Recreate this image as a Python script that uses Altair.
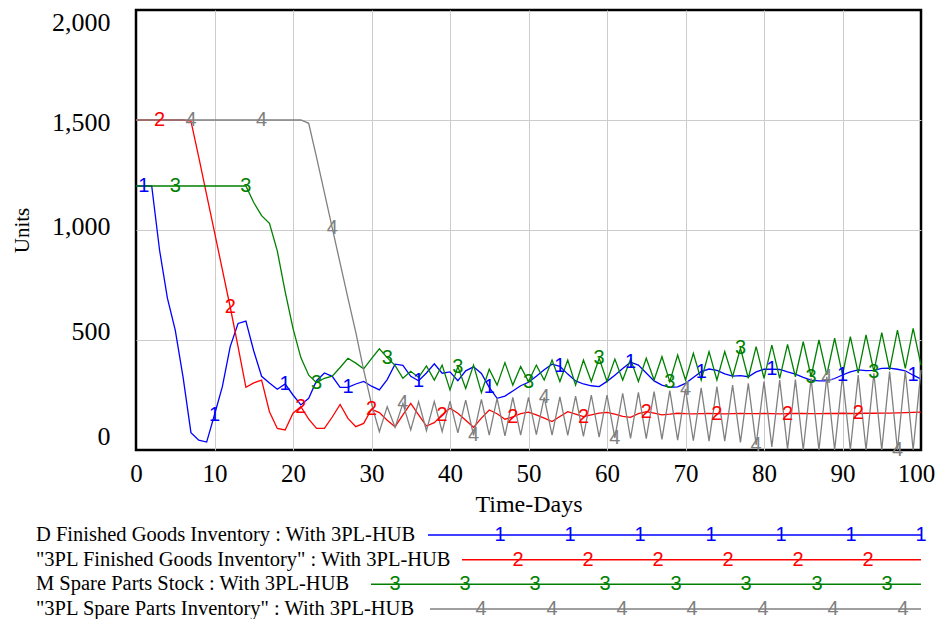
import altair as alt
import pandas as pd

days = list(range(101))

# D Finished Goods Inventory (series 1)
blue = [1200, 1200, 1200, 909, 690, 545, 330, 79, 45, 36,
        160, 288, 470, 575, 586, 450, 335, 305, 276, 300,
        250, 205, 235, 315, 350, 335, 285, 285, 300, 312,
        290, 273, 320, 390, 385, 335, 315, 350, 392, 349,
        355, 315, 360, 378, 348, 285, 235, 245, 268, 292,
        308, 335, 365, 390, 380, 345, 314, 300, 292, 288,
        312, 340, 370, 399, 386, 350, 314, 295, 285, 287,
        303, 330, 356, 368, 362, 346, 336, 338, 333, 355,
        367, 368, 366, 355, 345, 330, 318, 314, 314, 325,
        341, 355, 364, 361, 362, 371, 372, 367, 360, 340,
        322]

# "3PL Finished Goods Inventory" (series 2)
red = [1500, 1500, 1500, 1500, 1500, 1500, 1500, 1495, 1330, 1160,
       990, 820, 650, 470, 285, 305, 318, 174, 98, 91,
       167, 197, 140, 98, 98, 150, 207, 144, 106, 121,
       185, 170, 135, 106, 160, 212, 160, 109, 124, 160,
       190, 167, 135, 103, 145, 182, 165, 140, 150, 165,
       172, 160, 145, 129, 152, 174, 163, 152, 160, 168,
       171, 163, 153, 148, 165, 174, 168, 160, 163, 167,
       165, 164, 165, 166, 165, 164, 165, 166, 165, 165,
       166, 165, 164, 165, 166, 166, 165, 165, 166, 166,
       167, 166, 166, 167, 167, 168, 168, 169, 170, 171,
       172]

# M Spare Parts Stock (series 3)
green = [1200, 1200, 1200, 1200, 1200, 1200, 1200, 1200, 1200, 1200,
         1200, 1200, 1200, 1200, 1200, 1125, 1065, 1030, 905, 720,
         553, 420, 340, 306, 326, 336, 375, 417, 395, 369,
         415, 460, 420, 385, 326, 358, 330, 382, 318, 386,
         273, 379, 280, 386, 261, 367, 295, 397, 295, 379,
         311, 386, 318, 409, 311, 409, 295, 409, 311, 417,
         311, 413, 318, 413, 311, 417, 318, 424, 311, 432,
         318, 439, 318, 447, 318, 447, 333, 462, 326, 470,
         326, 477, 326, 480, 333, 492, 333, 500, 341, 508,
         341, 515, 349, 523, 356, 533, 364, 545, 371, 553,
         386]

# "3PL Spare Parts Inventory" (series 4)
grey = [1500, 1500, 1500, 1500, 1500, 1500, 1500, 1500, 1500, 1500,
        1500, 1500, 1500, 1500, 1500, 1500, 1500, 1500, 1500, 1500,
        1500, 1500, 1485, 1330, 1170, 1010, 849, 690, 535, 364,
        210, 83, 197, 103, 212, 91, 220, 88, 220, 83,
        222, 78, 227, 66, 230, 68, 235, 64, 239, 68,
        239, 70, 239, 68, 242, 66, 245, 62, 250, 58,
        250, 55, 258, 53, 262, 52, 265, 48, 270, 45,
        278, 42, 282, 40, 288, 40, 295, 35, 303, 23,
        311, 14, 318, 4, 320, 0, 326, 0, 333, 0,
        336, 0, 341, 0, 349, 0, 356, 0, 360, 0,
        364]

series_ids = ["1", "2", "3", "4"]
series_names = [
    "D Finished Goods Inventory : With 3PL-HUB",
    "\"3PL Finished Goods Inventory\" : With 3PL-HUB",
    "M Spare Parts Stock : With 3PL-HUB",
    "\"3PL Spare Parts Inventory\" : With 3PL-HUB",
]
colors = ["#0000FF", "#FF0000", "#008000", "#808080"]

label_days_blue = [1, 10, 19, 27, 36, 45, 54, 63, 72, 81, 90, 99]
label_days_red = [3, 12, 21, 30, 39, 48, 57, 65, 74, 83, 92]
label_days_green = [5, 14, 23, 32, 41, 50, 59, 68, 77, 86, 94]
label_days_grey = [7, 16, 25, 34, 43, 52, 61, 70, 79, 88, 97]

y_ticks = [0, 500, 1000, 1500, 2000]
x_ticks = list(range(0, 101, 5))

# ---- layout constants for the legend block (page pixels) ----
leg_text_x = 36
leg_line_start = [428, 462, 371, 430]
leg_line_end = 921
leg_marker_x = [
    [500, 570, 640, 711, 781, 851, 921],
    [518, 588, 658, 728, 798, 868],
    [395, 465, 535, 605, 676, 746, 817, 887],
    [481, 552, 622, 692, 763, 833, 903],
]

all_series = [blue, red, green, grey]
all_label_days = [label_days_blue, label_days_red, label_days_green, label_days_grey]

rows = []
for sid, vals in zip(series_ids, all_series):
    for d, v in zip(days, vals):
        rows.append({"series": sid, "day": d, "value": v})
df = pd.DataFrame(rows)

lab_rows = []
for sid, vals, ldays in zip(series_ids, all_series, all_label_days):
    for d in ldays:
        lab_rows.append({"series": sid, "day": d, "value": vals[d]})
df_lab = pd.DataFrame(lab_rows)

leg_rows = []
leg_mark_rows = []
for i, (sid, name) in enumerate(zip(series_ids, series_names)):
    leg_rows.append({"series": sid, "name": name, "row": i + 1,
                     "tx": leg_text_x, "x0": leg_line_start[i], "x1": leg_line_end})
    for mx in leg_marker_x[i]:
        leg_mark_rows.append({"series": sid, "row": i + 1, "mx": mx})
df_leg = pd.DataFrame(leg_rows)
df_leg_m = pd.DataFrame(leg_mark_rows)

color_scale = alt.Scale(domain=series_ids, range=colors)
SERIF = "Liberation Serif"
SANS = "Liberation Sans"
GRID = "#CCCCCC"


def build(use_offsets):
    y_axis_kwargs = dict(
        values=y_ticks, format=",.0f", grid=True, gridWidth=1,
        gridColor={"condition": {"test": "datum.value === 0 || datum.value === 2000",
                                 "value": "transparent"}, "value": GRID},
        domain=False, ticks=False, tickSize=0, labelPadding=26,
        labelFont=SERIF, labelFontSize=26, labelColor="black", labelFlush=False,
        labelOverlap=False, title="Units", titleFont=SERIF, titleFontSize=21,
        titleFontWeight="normal", titleColor="black", titlePadding=19,
    )
    x_axis_kwargs = dict(
        values=x_ticks, labelExpr="datum.value % 10 == 0 ? datum.label : ''",
        grid=True, gridWidth=1,
        gridColor={"condition": {"test": "datum.value === 0 || datum.value === 100",
                                 "value": "transparent"}, "value": GRID},
        domain=False, ticks=False,
        tickSize=0, labelPadding=11, labelFont=SERIF, labelFontSize=25,
        labelColor="black", labelFlush=False, labelOverlap=False,
        title="Time-Days", titleFont=SERIF, titleFontSize=24,
        titleFontWeight="normal", titleColor="black", titlePadding=6,
    )
    if use_offsets:
        y_axis_kwargs["labelOffset"] = {
            "condition": [
                {"test": "datum.value === 2000", "value": 12},
                {"test": "datum.value === 1500", "value": 2},
                {"test": "datum.value === 1000", "value": -4},
                {"test": "datum.value === 500", "value": -9},
            ],
            "value": -14,
        }
        x_axis_kwargs["labelOffset"] = {
            "condition": {"test": "datum.value === 100", "value": -5},
            "value": 0,
        }
    x_enc = alt.X(
        "day:Q",
        scale=alt.Scale(domain=[0, 100], nice=False, zero=False),
        axis=alt.Axis(**x_axis_kwargs),
    )
    y_enc = alt.Y(
        "value:Q",
        scale=alt.Scale(domain=[0, 2000], nice=False),
        axis=alt.Axis(**y_axis_kwargs),
    )
    col = alt.Color("series:N", scale=color_scale, legend=None)

    lines = alt.Chart(df).mark_line(strokeWidth=1.3).encode(
        x=x_enc, y=y_enc, color=col
    )
    labels = alt.Chart(df_lab).mark_text(
        font=SANS, fontSize=20, align="center", baseline="middle"
    ).encode(x="day:Q", y="value:Q", text="series:N", color=col)
    main = alt.layer(lines, labels)

    lx = alt.Scale(domain=[0, 945], range=[-136, 809], nice=False, zero=False)
    ly = alt.Scale(domain=[1, 4], range=[525, 599], nice=False, zero=False)
    leg_rule = alt.Chart(df_leg).mark_rule(strokeWidth=1.5).encode(
        x=alt.X("x0:Q", scale=lx, axis=None), x2="x1:Q",
        y=alt.Y("row:Q", scale=ly, axis=None), color=col,
    )
    leg_marks = alt.Chart(df_leg_m).mark_text(
        font=SANS, fontSize=20, align="center", baseline="middle"
    ).encode(
        x=alt.X("mx:Q", scale=lx, axis=None),
        y=alt.Y("row:Q", scale=ly, axis=None),
        text="series:N", color=col,
    )
    leg_text = alt.Chart(df_leg).mark_text(
        font=SERIF, fontSize=20.5, align="left", baseline="middle", color="black"
    ).encode(
        x=alt.X("tx:Q", scale=lx, axis=None),
        y=alt.Y("row:Q", scale=ly, axis=None),
        text="name:N",
    )
    legend = alt.layer(leg_rule, leg_marks, leg_text)

    chart = alt.layer(main, legend).resolve_scale(
        x="independent", y="independent"
    ).properties(
        width=785, height=440,
        autosize=alt.AutoSizeParams(type="none"),
        padding={"left": 128, "top": 2, "right": 16, "bottom": 169},
        background="white",
    ).configure_view(stroke="black", strokeWidth=2.5)
    return chart


try:
    chart = build(True)
    chart.to_dict()
except Exception:
    chart = build(False)

chart.save("out.html", embed_options={"renderer": "svg", "actions": False})
